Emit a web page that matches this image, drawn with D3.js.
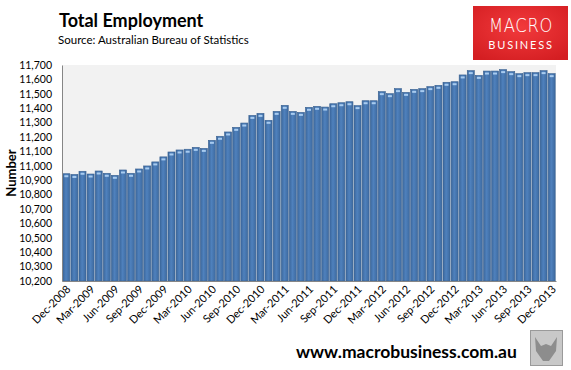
<!DOCTYPE html>
<html>
<head>
<meta charset="utf-8">
<script src="https://cdn.jsdelivr.net/npm/d3@7"></script>
<style>
  body { margin: 0; background: #fff; }
  svg { display: block; font-family: Lato, "Open Sans", sans-serif; }
</style>
</head>
<body>
<div id="chart"></div>
<script>
// ---- data (thousands) ----
const months = d3.timeMonth.range(new Date(2008, 11, 1), new Date(2014, 0, 1))
  .map(d3.timeFormat("%b-%Y"));
const employment = [
  10945, 10940, 10962, 10943, 10964, 10948, 10934, 10971, 10948, 10978,
  10999, 11027, 11062, 11096, 11110, 11115, 11128, 11121, 11177, 11205,
  11235, 11267, 11297, 11350, 11364, 11316, 11378, 11420, 11378, 11371,
  11406, 11413, 11408, 11431, 11438, 11445, 11418, 11452, 11452, 11515,
  11501, 11536, 11510, 11531, 11536, 11550, 11559, 11580, 11584, 11631,
  11661, 11628, 11658, 11658, 11668, 11654, 11640, 11647, 11647, 11661,
  11640
];
const yTicks = d3.range(10200, 11701, 100);
const xTickLabels = months.filter((m, i) => i % 3 === 0);

const W = 571, H = 370;
const plot = { left: 62, right: 556, top: 65, bottom: 281 };

const svg = d3.select("#chart").append("svg")
  .attr("width", W).attr("height", H);

const defs = svg.append("defs");
const barGrad = defs.append("linearGradient").attr("id", "barGrad")
  .attr("x1", 0).attr("x2", 1).attr("y1", 0).attr("y2", 0);
barGrad.append("stop").attr("offset", "0%").attr("stop-color", "#3b679c");
barGrad.append("stop").attr("offset", "45%").attr("stop-color", "#4f81bd");
barGrad.append("stop").attr("offset", "100%").attr("stop-color", "#3d6aa0");

const logoGrad = defs.append("radialGradient").attr("id", "logoGrad")
  .attr("cx", "50%").attr("cy", "40%").attr("r", "70%");
logoGrad.append("stop").attr("offset", "0%").attr("stop-color", "#f23a3c");
logoGrad.append("stop").attr("offset", "100%").attr("stop-color", "#d41e22");

// title
svg.append("text").attr("x", 59).attr("y", 27)
  .attr("font-size", 18).attr("font-weight", "bold").attr("fill", "#000")
  .text("Total Employment");
svg.append("text").attr("x", 58).attr("y", 44)
  .attr("font-size", 11.5).attr("fill", "#000")
  .text("Source: Australian Bureau of Statistics");

// logo
const logo = svg.append("g");
logo.append("rect").attr("x", 473).attr("y", 6).attr("width", 95).attr("height", 54)
  .attr("fill", "url(#logoGrad)");
logo.append("text").attr("x", 521).attr("y", 32).attr("text-anchor", "middle")
  .attr("font-size", 20).attr("fill", "#fff").attr("letter-spacing", 0.8)
  .attr("font-family", "'DejaVu Sans', sans-serif").attr("font-weight", 200)
  .attr("textLength", 64).attr("lengthAdjust", "spacingAndGlyphs")
  .text("MACRO");
logo.append("text").attr("x", 521).attr("y", 49).attr("text-anchor", "middle")
  .attr("font-size", 11).attr("fill", "#fff").attr("letter-spacing", 1.8)
  .text("BUSINESS");

// scales
const x = d3.scaleBand().domain(months)
  .range([plot.left, plot.right]).paddingInner(0.13).paddingOuter(0.1);
const y = d3.scaleLinear().domain([10200, 11700])
  .range([plot.bottom, plot.top]);

svg.append("rect").attr("x", plot.left).attr("y", plot.top)
  .attr("width", plot.right - plot.left).attr("height", plot.bottom - plot.top)
  .attr("fill", "#f2f2f2");

// bars
const bars = svg.append("g").selectAll("g").data(employment).join("g");
bars.append("rect")
  .attr("x", (d, i) => x(months[i]))
  .attr("y", d => y(d))
  .attr("width", x.bandwidth())
  .attr("height", d => plot.bottom - y(d))
  .attr("fill", "url(#barGrad)")
  .attr("stroke", "#3a6190").attr("stroke-width", 0.6);
bars.append("rect")
  .attr("x", (d, i) => x(months[i]) + x.bandwidth() / 2 - 2)
  .attr("y", d => y(d) + 1.5)
  .attr("width", 4).attr("height", 2)
  .attr("fill", "#a8cbef");

// y axis
const yAxis = svg.append("g").attr("transform", `translate(${plot.left},0)`)
  .call(d3.axisLeft(y).tickValues(yTicks).tickSize(0).tickPadding(10)
    .tickFormat(d3.format(",")));
yAxis.select(".domain").attr("stroke", "#868686");
yAxis.selectAll("text").attr("font-size", 10.5).attr("fill", "#000")
  .attr("font-family", "Lato, sans-serif");

svg.append("text")
  .attr("transform", `translate(11,${(plot.top + plot.bottom) / 2}) rotate(-90)`)
  .attr("text-anchor", "middle").attr("dy", "0.35em")
  .attr("font-size", 13).attr("font-weight", "bold")
  .text("Number");

// x axis
const xAxis = svg.append("g").attr("transform", `translate(0,${plot.bottom})`)
  .call(d3.axisBottom(x).tickValues(xTickLabels).tickSize(0).tickPadding(0));
xAxis.select(".domain").attr("stroke", "#868686");
xAxis.selectAll("text")
  .attr("font-size", 11).attr("fill", "#000").attr("font-family", "Lato, sans-serif")
  .attr("text-anchor", "end").attr("dy", 0).attr("y", 0)
  .attr("transform", "translate(5,9) rotate(-45)");

// footer
svg.append("text").attr("x", 296).attr("y", 358)
  .attr("font-size", 17.5).attr("font-weight", "bold").attr("fill", "#000")
  .text("www.macrobusiness.com.au");
const wolf = svg.append("g");
wolf.append("rect").attr("x", 530.5).attr("y", 330.5).attr("width", 32).attr("height", 35)
  .attr("fill", "#c8c8c8").attr("stroke", "#9a9a9a");
wolf.append("path")
  .attr("d", "M535,337 L541,346 L546,344 L551,346 L557,337 L556,351 L549,361 L543,361 L536,351 Z")
  .attr("fill", "#8d8d8d");
</script>
</body>
</html>
